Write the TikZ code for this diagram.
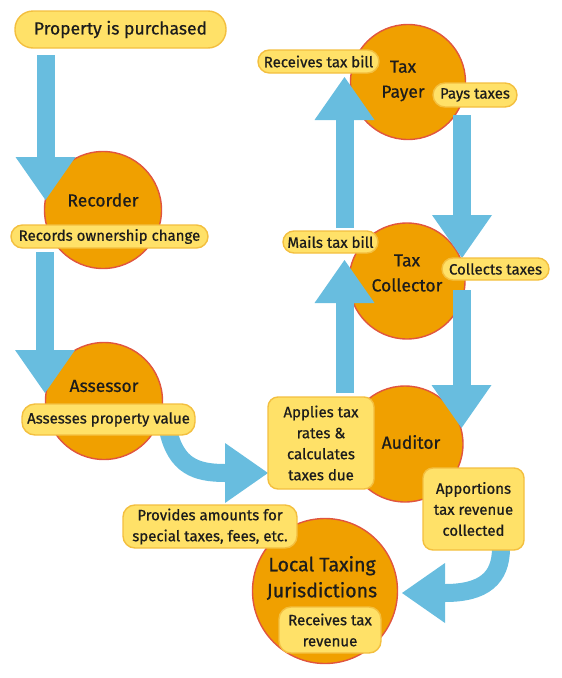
\documentclass[tikz,border=0pt]{standalone}
\usepackage{fontspec}
\setmainfont{Fira Sans}[FakeBold=0.7]
\usetikzlibrary{arrows.meta}
\definecolor{orng}{HTML}{F0A000}
\definecolor{ring}{HTML}{E0553F}
\definecolor{pillfill}{HTML}{FFE168}
\definecolor{pilldraw}{HTML}{F3BF3F}
\definecolor{arrowblue}{HTML}{68BDDF}
\definecolor{txt}{HTML}{1C1C1C}
\begin{document}
\begin{tikzpicture}[x=1pt,y=-1pt,
  circ/.style={circle,fill=orng,draw=ring,line width=1.4pt,inner sep=0pt,minimum size=#1},
  ctext/.style={font=\fontsize{17.5}{25}\selectfont,align=center,text=txt,inner sep=0pt},
  pill/.style={rectangle,rounded corners=#1,fill=pillfill,draw=pilldraw,line width=1.4pt,inner sep=0pt,font=\fontsize{15}{21}\selectfont,align=center,text=txt},
  flow/.style={draw=arrowblue,line width=18pt,-{Triangle[width=60pt,length=43pt,line width=0pt]}},
]
\useasboundingbox (0,0) rectangle (562,678);
% circles
\node[circ=117pt] (rec) at (103,210) {};
\node[circ=117pt] (ass) at (104,401) {};
\node[circ=115pt] (payer) at (408,82) {};
\node[circ=116pt] (coll) at (407,281) {};
\node[circ=116pt] (aud) at (405,444) {};
\node[circ=145pt] (loc) at (325,591) {};
% circle labels
\node[ctext] (recl) at (103,200) {Recorder};
\node[ctext] (assl) at (104,386) {Assessor};
\node[ctext] (payl) at (403,81) {Tax\\Payer};
\node[ctext] (coll-l) at (407,273) {Tax\\Collector};
\node[ctext] (audl) at (411,442) {Auditor};
\node[ctext,font=\fontsize{19.5}{26}\selectfont] (locl) at (322,578) {Local Taxing\\Jurisdictions};
% arrows
\coordinate (a1s) at (45.5,55);  \coordinate (a1e) at (45.5,200);
\coordinate (a2s) at (45,252);   \coordinate (a2e) at (45,393);
\coordinate (a3s) at (344.5,393); \coordinate (a3e) at (344.5,260);
\coordinate (a4s) at (344.5,228); \coordinate (a4e) at (344.5,77);
\coordinate (a5s) at (462,115);  \coordinate (a5e) at (462,258);
\coordinate (a6s) at (461.5,290); \coordinate (a6e) at (461.5,428);
\coordinate (a7s) at (168,430);  \coordinate (a7e) at (268,473);
\coordinate (a8s) at (501,548);  \coordinate (a8e) at (402,593);
\draw[flow] (a1s) -- (a1e);
\draw[flow] (a2s) -- (a2e);
\draw[flow] (a3s) -- (a3e);
\draw[flow] (a4s) -- (a4e);
\draw[flow] (a5s) -- (a5e);
\draw[flow] (a6s) -- (a6e);
\draw[flow] (a7s) .. controls (176,466) and (196,473) .. (a7e);
\draw[flow] (a8s) .. controls (501,578) and (484,593) .. (a8e);
% pills and boxes
\node[pill=18pt,minimum width=211pt,minimum height=37pt,font=\fontsize{17.5}{21}\selectfont] (prop) at (120.5,29.5) {Property is purchased};
\node[pill=11.5pt,minimum width=197pt,minimum height=23pt] (recs) at (109.5,236.5) {Records ownership change};
\node[pill=13pt,minimum width=173pt,minimum height=31pt] (asv) at (108.5,419.5) {Assesses property value};
\node[pill=11.5pt,minimum width=121pt,minimum height=23pt] (rtb) at (318.5,61.5) {Receives tax bill};
\node[pill=12pt,minimum width=84pt,minimum height=24pt] (pays) at (475,95) {Pays taxes};
\node[pill=11pt,minimum width=95pt,minimum height=22pt] (mails) at (330.5,242) {Mails tax bill};
\node[pill=11pt,minimum width=107pt,minimum height=22pt] (colt) at (495.5,269) {Collects taxes};
\node[pill=10pt,minimum width=106pt,minimum height=92pt] (appl) at (321,443) {Applies tax\\rates \&\\calculates\\taxes due};
\node[pill=10pt,minimum width=101pt,minimum height=82pt] (appt) at (473.5,509) {Apportions\\tax revenue\\collected};
\node[pill=12pt,minimum width=174pt,minimum height=43pt] (prov) at (210,526.5) {Provides amounts for\\special taxes, fees, etc.};
\node[pill=12pt,minimum width=102pt,minimum height=46pt] (rrev) at (330,630) {Receives tax\\revenue};
\end{tikzpicture}
\end{document}
